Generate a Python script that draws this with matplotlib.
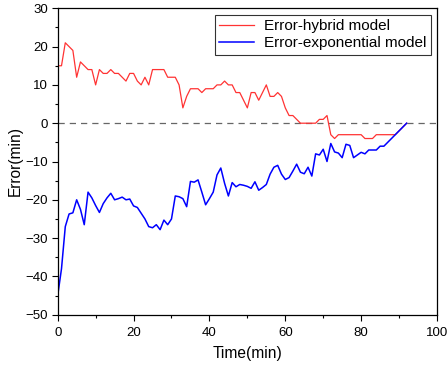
import matplotlib
matplotlib.use('Agg')
import matplotlib.pyplot as plt
import matplotlib.ticker as mticker
import numpy as np

plt.rcParams['font.family'] = ['Liberation Sans', 'DejaVu Sans']

# time axis (min)
time_min = list(range(0, 93))

# error of hybrid model (min)
err_hybrid = [15, 15, 21, 20, 19, 12, 16, 15, 14, 14,
              10, 14, 13, 13, 14, 13, 13, 12, 11, 13,
              13, 11, 10, 12, 10, 14, 14, 14, 14, 12,
              12, 12, 10, 4, 7, 9, 9, 9, 8, 9,
              9, 9, 10, 10, 11, 10, 10, 8, 8, 6,
              4, 8, 8, 6, 8, 10, 7, 7, 8, 7,
              4, 2, 2, 1, 0, 0, 0, 0, 0, 1,
              1, 2, -3, -4, -3, -3, -3, -3, -3, -3,
              -3, -4, -4, -4, -3, -3, -3, -3, -3, -3,
              -2, -1, 0]

# error of exponential model (min)
err_exp = [-45, -38, -27, -23.7, -23.4, -20, -22.5, -26.5, -18, -19.5,
           -21.5, -23.3, -21, -19.5, -18.3, -20, -19.7, -19.3, -20, -19.8,
           -21.6, -22, -23.5, -25, -27, -27.3, -26.5, -27.8, -25.3, -26.5,
           -25, -19, -19.2, -19.7, -21.8, -15.2, -15.4, -14.8, -18, -21.3,
           -19.7, -18, -13.5, -11.7, -15.7, -19, -15.5, -16.6, -16, -16.2,
           -16.5, -17, -15.3, -17.5, -16.8, -16, -13.3, -11.5, -11, -13.3,
           -14.7, -14.2, -12.5, -10.7, -12.8, -13.2, -11.5, -13.8, -8, -8.3,
           -6.8, -10, -5.3, -7.5, -7.8, -9, -5.5, -5.8, -9, -8.3,
           -7.6, -8, -7, -7, -7, -6, -6, -5, -4, -3,
           -2, -1, 0]

fig = plt.figure(figsize=(4.47, 3.66), dpi=100)
ax = fig.add_axes([57.7/447, 1 - 314.7/366, (437 - 57.7)/447, (314.7 - 8.3)/366])

ax.axhline(0, color='#666666', linestyle=(0, (5, 4)), linewidth=0.9)
ax.plot(time_min, err_hybrid, color='#ff3333', linewidth=0.9, label='Error-hybrid model')
ax.plot(time_min, err_exp, color='#0000ff', linewidth=1.1, label='Error-exponential model')

ax.set_xlim(0, 100)
ax.set_ylim(-50, 30)
ax.xaxis.set_major_locator(mticker.MultipleLocator(20))
ax.xaxis.set_minor_locator(mticker.MultipleLocator(10))
ax.yaxis.set_major_locator(mticker.MultipleLocator(10))
ax.yaxis.set_minor_locator(mticker.MultipleLocator(5))
ax.tick_params(which='major', direction='out', length=4, width=0.8, labelsize=9.5, pad=3)
ax.tick_params(axis='x', which='major', pad=5)
ax.tick_params(which='minor', direction='out', length=2.5, width=0.8)
for s in ax.spines.values():
    s.set_linewidth(0.9)

ax.set_xlabel('Time(min)', fontsize=11.2, labelpad=5)
ax.set_ylabel('Error(min)', fontsize=11.2, labelpad=2)

leg = ax.legend(loc='upper right', fontsize=11, frameon=True, fancybox=False,
                edgecolor='black', borderaxespad=0.42, handlelength=2.3,
                borderpad=0.3, labelspacing=0.2, handletextpad=0.6)
leg.get_frame().set_linewidth(0.8)

plt.savefig('out.png', dpi=100)
